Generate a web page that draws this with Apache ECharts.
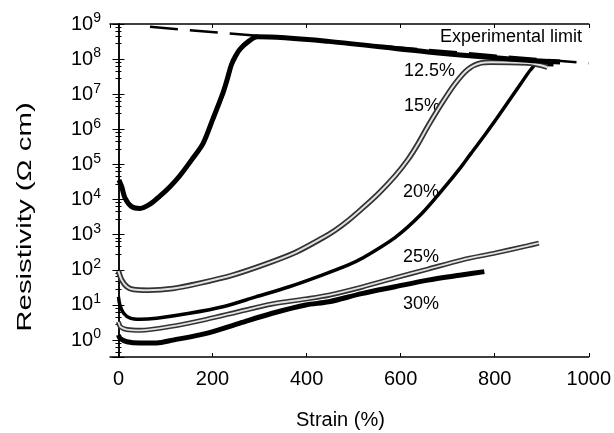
<!DOCTYPE html>
<html><head><meta charset="utf-8">
<script src="https://cdn.jsdelivr.net/npm/echarts@6/dist/echarts.min.js"></script>
<style>html,body{margin:0;padding:0;background:#fff}#c{width:614px;height:433px}</style>
</head><body><div id="c"></div>
<script>
// Strain (%) vs resistivity (ohm cm) for each filler fraction
const s125 = [[1,3.6e4],[7,2.3e4],[14,1.1e4],[28,6.3e3],[46,5.6e3],[67,7.4e3],[88,1.26e4],[109,2.3e4],[130,4.7e4],[158,1.5e5],[180,4.0e5],[200,1.86e6],[222,1.07e7],[232,2.9e7],[240,6.8e7],[249,1.23e8],[259,1.95e8],[278,3.3e8],[295,4.3e8],[447,3.2e8],[658,1.6e8],[869,9.3e7],[939,8.3e7]];
const s15 = [[0,93],[7,51],[18,33],[32,27.5],[63,26.3],[116,29.5],[173,41.7],[243,71],[320,158],[377,316],[433,794],[460,1.32e3],[489,2.57e3],[517,5.4e3],[553,1.5e4],[588,4.7e4],[616,1.41e5],[637,3.9e5],[658,1.23e6],[686,5.1e6],[715,1.95e7],[743,5.1e7],[771,7.8e7],[792,8.1e7],[876,7.6e7],[912,5.9e7]];
const s20 = [[0,17],[3,10],[11,5.8],[25,4.2],[46,3.9],[81,4.2],[151,5.8],[222,8.9],[292,17],[363,33],[433,71],[489,138],[517,209],[588,832],[644,3.9e3],[694,2.3e4],[729,8.7e4],[750,2.1e5],[779,6.9e5],[806,2.2e6],[827,5.6e6],[855,1.95e7],[876,4.9e7],[890,7.2e7],[925,6.9e7]];
const s25 = [[0,3.3],[4,2.4],[18,2.0],[46,1.9],[116,2.5],[187,3.9],[257,6.5],[327,10.7],[398,14.8],[447,19],[517,32],[588,59],[658,105],[729,190],[800,300],[869,480],[894,575]];
const s30 = [[0,1.4],[4,1.1],[18,0.9],[46,0.83],[81,0.83],[116,1.0],[187,1.55],[257,3.0],[327,5.8],[398,10],[447,12.3],[517,21],[588,33],[658,51],[729,71],[778,89]];
const limitLine = [[67,8.3e8],[1000,7.6e7]];
const curveLabels = ['12.5%','15%','20%','25%','30%'];
const limitLabel = 'Experimental limit';
const xTitle = 'Strain (%)';
const yTitle = 'Resistivity (Ω cm)';

const FONT = "'Liberation Sans', Arial, Helvetica, sans-serif";
const chart = echarts.init(document.getElementById('c'), null, {renderer:'canvas'});
const G = {left:110, right:23, top:24, bottom:76};
const yMin = 0.33, yMax = 1e9, xMin = -18, xMax = 1000;

function line(data, color, width, z, extra){
  return Object.assign({type:'line', data:data, showSymbol:false, symbol:'none', smooth:0.3,
    lineStyle:{color:color, width:width}, z:z, silent:true, animation:false}, extra||{});
}
const series = [
  line(limitLine, '#000', 2.5, 2, {smooth:false, lineStyle:{color:'#000', width:2.5, type:[28,12]}}),
  line(s30, '#000', 5, 3),
  line(s25, '#333', 5, 3),
  line(s25, '#e2e2e2', 1.8, 4),
  line(s20, '#000', 3.5, 3),
  line(s15, '#333', 5.5, 3),
  line(s15, '#e2e2e2', 2, 4),
  line(s125, '#000', 5, 5)
];

const labelPos = [[404,72],[404,107],[403,193],[403,258],[403,305]];
const graphics = curveLabels.map((t,i)=>({type:'text', left:labelPos[i][0], top:labelPos[i][1]-10,
  style:{text:t, font:'18px '+FONT, fill:'#000'}}));
graphics.push({type:'text', left:440, top:28, style:{text:limitLabel, font:'18px '+FONT, fill:'#000'}});
graphics.push({type:'text', left:296, top:410, style:{text:xTitle, font:'20px '+FONT, fill:'#000'}});
graphics.push({type:'text', x:25, y:217, rotation:Math.PI/2, scaleX:1.4,
  style:{text:yTitle, font:'21px '+FONT, fill:'#000', align:'center', verticalAlign:'middle'}});

chart.setOption({
  animation:false,
  backgroundColor:'#fff',
  grid:G,
  xAxis:[
    {type:'value', min:xMin, max:xMax, splitNumber:5, position:'bottom',
     axisLine:{lineStyle:{color:'#000', width:1.5}}, axisTick:{inside:true, length:4, lineStyle:{color:'#000'}},
     splitLine:{show:false},
     axisLabel:{showMinLabel:false, margin:12, color:'#000', fontSize:20, fontFamily:FONT,
       formatter:function(v){ return String(v); }}},
    {type:'value', min:xMin, max:xMax, splitNumber:5, position:'top',
     axisLine:{lineStyle:{color:'#000', width:1.5}}, axisTick:{inside:true, length:4, lineStyle:{color:'#000'}},
     splitLine:{show:false}, axisLabel:{show:false}}
  ],
  yAxis:[
    {type:'log', logBase:10, min:yMin, max:yMax, position:'left',
     axisLine:{lineStyle:{color:'#000', width:1.5}}, axisTick:{inside:true, length:6, lineStyle:{color:'#000'}},
     minorTick:{show:true, splitNumber:5, length:3, lineStyle:{color:'#000'}},
     splitLine:{show:false},
     axisLabel:{showMinLabel:false, margin:9, color:'#000',
       formatter:function(v){ return '{b|10}{s|' + Math.round(Math.log10(v)) + '}'; },
       rich:{b:{fontSize:20, fontFamily:FONT, color:'#000'}, s:{fontSize:14, fontFamily:FONT, color:'#000', padding:[0,0,11,0]}}}},
    {type:'log', logBase:10, min:yMin, max:yMax, position:'right',
     axisLine:{lineStyle:{color:'#000', width:1.5}}, axisTick:{inside:true, length:6, lineStyle:{color:'#000'}},
     minorTick:{show:true, splitNumber:5, length:3, lineStyle:{color:'#000'}},
     splitLine:{show:false}, axisLabel:{show:false}}
  ],
  series:series,
  graphic:graphics
});
</script></body></html>
